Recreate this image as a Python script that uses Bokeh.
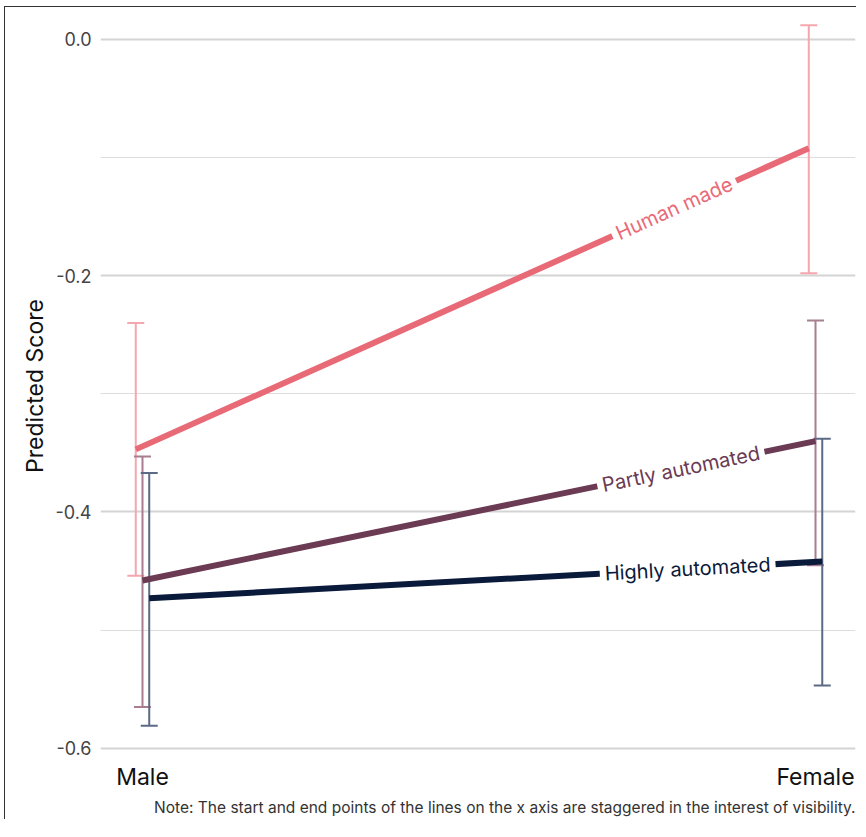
import math
from bokeh.plotting import figure
from bokeh.models import ColumnDataSource, Whisker, TeeHead, FixedTicker, Title, Range1d
from bokeh.core.properties import value
from bokeh.embed import file_html
from bokeh.resources import INLINE

# ---- data ----
genders = ["Male", "Female"]
gender_x = [1, 2]
series = ["Human made", "Partly automated", "Highly automated"]
stagger = [-0.01, 0.0, 0.01]
pred = [
    [-0.347, -0.092],
    [-0.458, -0.340],
    [-0.473, -0.442],
]
upper = [
    [-0.240, 0.012],
    [-0.353, -0.238],
    [-0.367, -0.338],
]
lower = [
    [-0.454, -0.198],
    [-0.565, -0.445],
    [-0.581, -0.547],
]
y_ticks = [-0.6, -0.4, -0.2, 0.0]
y_tick_labels = ["-0.6", "-0.4", "-0.2", "0.0"]
y_minor = [-0.5, -0.3, -0.1]
label_pos = 1.8
note = "Note: The start and end points of the lines on the x axis are staggered in the interest of visibility."

line_colors = ["#E96A77", "#6B3A53", "#0A1A3A"]
bar_colors = ["#F4A7AF", "#A87D8F", "#5B6A85"]

FW, FH = 755, 741
x0, x1 = 0.9376, 2.0594
y0, y1 = -0.607, 0.0203

p = figure(frame_width=FW, frame_height=FH, output_backend="svg", toolbar_location=None,
           x_range=Range1d(x0, x1), y_range=Range1d(y0, y1),
           min_border_left=95, min_border_right=1, min_border_top=8, min_border_bottom=0)
p.styles = {"border-left": "1px solid #333", "border-top": "1px solid #333",
            "margin-left": "4px", "margin-top": "6px"}
p.outline_line_color = None
p.background_fill_color = "white"
p.border_fill_color = "white"

# grid
p.xgrid.visible = False
p.ygrid.ticker = FixedTicker(ticks=y_ticks, minor_ticks=y_minor)
p.ygrid.grid_line_color = "#d4d4d4"
p.ygrid.grid_line_width = 2
p.ygrid.minor_grid_line_color = "#dddddd"
p.ygrid.minor_grid_line_width = 1

# y axis
p.yaxis.ticker = FixedTicker(ticks=y_ticks, minor_ticks=[])
p.yaxis.major_label_overrides = {t: l for t, l in zip(y_ticks, y_tick_labels)}
p.yaxis.axis_line_color = None
p.yaxis.major_tick_line_color = None
p.yaxis.minor_tick_line_color = None
p.yaxis.major_label_text_font = "Inter"
p.yaxis.major_label_text_font_size = "18px"
p.yaxis.major_label_text_color = "#444444"
p.yaxis.major_label_standoff = 3
p.yaxis.axis_label = "Predicted Score"
p.yaxis.axis_label_text_font = "Inter"
p.yaxis.axis_label_text_font_size = "23px"
p.yaxis.axis_label_text_font_style = "normal"
p.yaxis.axis_label_text_color = "#111111"
p.yaxis.axis_label_standoff = 4

# x axis
p.xaxis.ticker = FixedTicker(ticks=gender_x, minor_ticks=[])
p.xaxis.major_label_overrides = {x: g for x, g in zip(gender_x, genders)}
p.xaxis.axis_line_color = None
p.xaxis.major_tick_line_color = None
p.xaxis.minor_tick_line_color = None
p.xaxis.major_label_text_font = "Inter"
p.xaxis.major_label_text_font_size = "23px"
p.xaxis.major_label_text_color = "#111111"
p.xaxis.major_label_standoff = 0

ppx = FW / (x1 - x0)
ppy = FH / (y1 - y0)

for i, name in enumerate(series):
    xs = [g + stagger[i] for g in gender_x]
    src = ColumnDataSource(dict(x=xs, y=pred[i], upper=upper[i], lower=lower[i]))
    w = Whisker(base="x", upper="upper", lower="lower", source=src, dimension="height",
                line_color=bar_colors[i], line_width=2, level="underlay",
                upper_head=TeeHead(size=17, line_color=bar_colors[i], line_width=2),
                lower_head=TeeHead(size=17, line_color=bar_colors[i], line_width=2))
    p.add_layout(w)

for i, name in enumerate(series):
    xs = [g + stagger[i] for g in gender_x]
    p.line(xs, pred[i], line_color=line_colors[i], line_width=6)
    frac = (label_pos - gender_x[0]) / (gender_x[1] - gender_x[0])
    ly = pred[i][0] + frac * (pred[i][1] - pred[i][0])
    lx = label_pos + stagger[i]
    ang = math.atan2((pred[i][1] - pred[i][0]) * ppy, (xs[1] - xs[0]) * ppx)
    p.text(x=[lx], y=[ly], text=[name], angle=ang, angle_units="rad",
           text_align="center", text_baseline="middle", text_color=line_colors[i],
           text_font=value("Inter"), text_font_size="20px",
           background_fill_color="white", padding=5)

t = Title(text=note, align="right", text_font="Inter", text_font_size="15.5px",
          text_font_style="normal", text_color="#333333", standoff=5)
p.add_layout(t, "below")

open("out.html", "w").write(file_html(p, INLINE))
